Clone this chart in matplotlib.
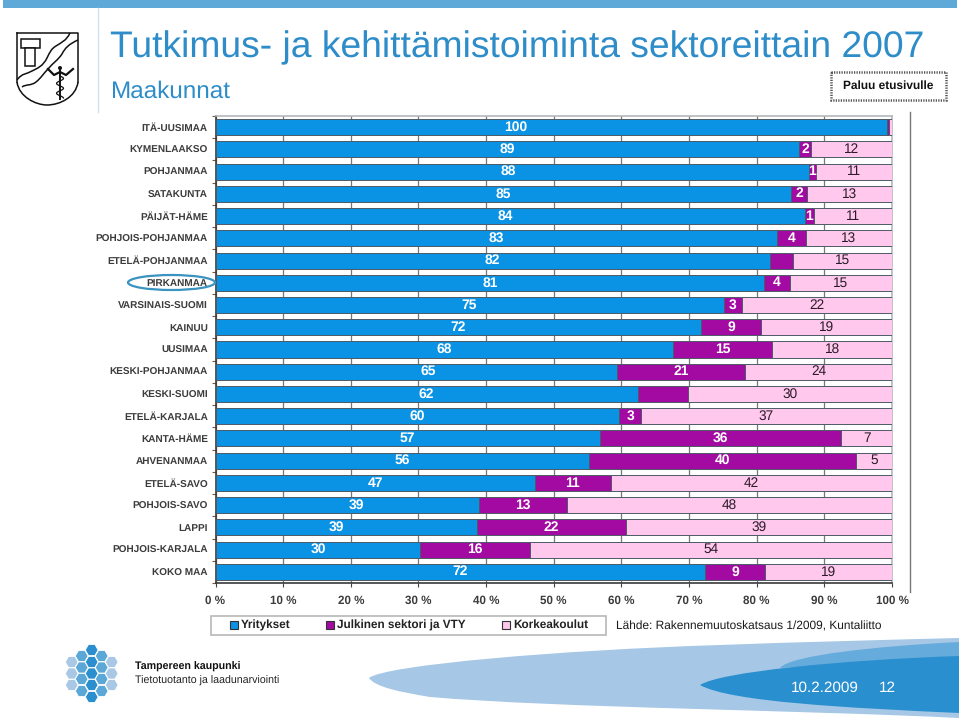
import numpy as np
import matplotlib
matplotlib.use('Agg')
import matplotlib.pyplot as plt
from matplotlib.patches import Rectangle, Ellipse, RegularPolygon, PathPatch
from matplotlib.path import Path

plt.rcParams['font.family'] = ['Liberation Sans', 'DejaVu Sans']
plt.rcParams['text.hinting'] = 'no_hinting'

regions = ['ITÄ-UUSIMAA', 'KYMENLAAKSO', 'POHJANMAA', 'SATAKUNTA', 'PÄIJÄT-HÄME',
           'POHJOIS-POHJANMAA', 'ETELÄ-POHJANMAA', 'PIRKANMAA', 'VARSINAIS-SUOMI',
           'KAINUU', 'UUSIMAA', 'KESKI-POHJANMAA', 'KESKI-SUOMI', 'ETELÄ-KARJALA',
           'KANTA-HÄME', 'AHVENANMAA', 'ETELÄ-SAVO', 'POHJOIS-SAVO', 'LAPPI',
           'POHJOIS-KARJALA', 'KOKO MAA']

# segment widths as drawn (%), the printed labels do not always agree with them
yritykset = [99.2, 86.3, 87.7, 85.1, 87.1, 83.0, 81.9, 81.1, 75.1, 71.8, 67.6,
             59.4, 62.4, 59.7, 56.8, 55.2, 47.2, 39.0, 38.6, 30.3, 72.3]
julkinen = [0.4, 1.8, 1.0, 2.4, 1.3, 4.3, 3.4, 3.8, 2.7, 8.8, 14.7,
            18.9, 7.4, 3.2, 35.7, 39.5, 11.2, 13.0, 22.1, 16.2, 9.0]
korkeakoulut = [0.4, 11.9, 11.3, 12.5, 11.6, 12.7, 14.7, 15.1, 22.2, 19.4, 17.7,
                21.7, 30.2, 37.1, 7.5, 5.3, 41.6, 48.0, 39.3, 53.5, 18.7]

yritykset_lab = ['100', '89', '88', '85', '84', '83', '82', '81', '75', '72', '68',
                 '65', '62', '60', '57', '56', '47', '39', '39', '30', '72']
julkinen_lab = ['', '2', '1', '2', '1', '4', '', '4', '3', '9', '15',
                '21', '', '3', '36', '40', '11', '13', '22', '16', '9']
korkea_lab = ['', '12', '11', '13', '11', '13', '15', '15', '22', '19', '18',
              '24', '30', '37', '7', '5', '42', '48', '39', '54', '19']

series_names = ['Yritykset', 'Julkinen sektori ja VTY', 'Korkeakoulut']
xticks = [0, 10, 20, 30, 40, 50, 60, 70, 80, 90, 100]

BLUE = '#0a92e4'
PURPLE = '#a20aa2'
PINK = '#ffc8ec'
EDGE = '#4d5a66'

W, H = 959, 718
fig = plt.figure(figsize=(W / 100, H / 100), dpi=100)

# ---- chart
ax = fig.add_axes([215.5 / W, 1 - 583 / H, 676.5 / W, 467 / H])
y = np.arange(len(regions))
left2 = np.array(yritykset)
left3 = left2 + np.array(julkinen)
ax.barh(y, yritykset, 0.72, color=BLUE, edgecolor=EDGE, linewidth=0.7, zorder=3)
ax.barh(y, julkinen, 0.72, left=left2, color=PURPLE, edgecolor=EDGE, linewidth=0.7, zorder=3)
ax.barh(y, korkeakoulut, 0.72, left=left3, color=PINK, edgecolor=EDGE, linewidth=0.7, zorder=3)

ax.set_xlim(0, 100)
ax.set_ylim(20.5, -0.5)
ax.set_xticks(xticks)
ax.set_xticklabels(['%d %%' % t for t in xticks], fontsize=8.4, fontweight='bold', color='#3c3c3c')
ax.set_yticks(y)
ax.set_yticklabels(regions, fontsize=7.2, fontweight='bold', color='#3c3c3c')
ax.set_yticks(np.arange(-0.5, 21), minor=True)
ax.tick_params(axis='y', which='major', length=0, pad=5.5)
ax.tick_params(axis='y', which='minor', length=3, color='#7a5a3a', width=0.8)
ax.tick_params(axis='x', length=3, color='#444444', pad=6)
ax.grid(axis='x', color='#777777', linewidth=0.9, zorder=0)
ax.set_axisbelow(True)
for side in ['left', 'bottom']:
    ax.spines[side].set_color('#3a3a3a')
    ax.spines[side].set_linewidth(1.2)
for side in ['top', 'right']:
    ax.spines[side].set_color('#b4b8bc')
    ax.spines[side].set_linewidth(1.2)

# hand placed labels in the original, shift from the middle of the segment
nudge = {0: -5.2, 2: -0.6, 4: -0.7, 11: 1.8, 17: 1.3, 18: -1.5}
for i in y:
    ax.text(yritykset[i] / 2 + nudge.get(i, 0), i, yritykset_lab[i], ha='center', va='center',
            color='white', fontsize=10, fontweight='bold', zorder=5)
    ax.text(left2[i] + julkinen[i] / 2, i, julkinen_lab[i], ha='center', va='center',
            color='white', fontsize=10, fontweight='bold', zorder=5)
    ax.text(left3[i] + korkeakoulut[i] / 2, i, korkea_lab[i], ha='center', va='center',
            color='#2a1a2a', fontsize=9.8, zorder=5)

# ---- slide furniture, in pixel coordinates
deco = fig.add_axes([0, 0, 1, 1], zorder=5)
deco.set_xlim(0, W)
deco.set_ylim(H, 0)
deco.axis('off')
deco.patch.set_alpha(0)

deco.add_patch(Rectangle((3, 0), 954, 8, color='#5fa9d8', lw=0))
deco.plot([97.5, 97.5], [8, 112], color='#cfe2ef', lw=1)
deco.plot([910, 910], [112, 592], color='#777777', lw=1)

deco.text(110, 47.5, 'Tutkimus- ja kehittämistoiminta sektoreittain 2007', color='#2e8dc8',
          fontsize=26.8, ha='left', va='center')
deco.text(110, 92, 'Maakunnat', color='#2e8dc8', fontsize=17.5, ha='left', va='center')

deco.add_patch(Rectangle((831, 72), 115, 28, fill=False, ec='#555555', lw=1.8, ls=(0, (0.5, 0.5))))
deco.text(888.5, 86, 'Paluu etusivulle', fontsize=8.6, fontweight='bold', ha='center', va='center', color='#111111')

# oval round PIRKANMAA
deco.add_patch(Ellipse((171.5, 282.5), 87, 15, fill=False, ec='#3a93c0', lw=1.6))

# legend box
deco.add_patch(Rectangle((211, 616), 395, 19, fc='white', ec='#b8b8b8', lw=1.2))
legend_x = [231, 327, 503]
legend_col = [BLUE, PURPLE, PINK]
for lx, col, name in zip(legend_x, legend_col, series_names):
    deco.add_patch(Rectangle((lx - 1, 621), 8, 8, fc=col, ec='#333333', lw=0.8))
    deco.text(lx + 10, 625.2, name, fontsize=8.5, fontweight='bold', ha='left', va='center', color='#222222')

deco.text(616, 626, 'Lähde: Rakennemuutoskatsaus 1/2009, Kuntaliitto', fontsize=8.6,
          ha='left', va='center', color='#1a1a1a')


def curve(verts, color, z=1):
    # verts: start, then triples of bezier points, closed at the end
    codes = [Path.MOVETO] + [Path.CURVE4] * (len(verts) - 1)
    deco.add_patch(PathPatch(Path(verts, codes), fc=color, ec='none', zorder=z))


def line_curve(verts, lw=1.1):
    codes = [Path.MOVETO] + [Path.CURVE4] * (len(verts) - 1)
    deco.add_patch(PathPatch(Path(verts, codes), fc='none', ec='#111111', lw=lw))


# swooshes at the bottom right
curve([(369, 678), (385, 665), (560, 650), (720, 645),
       (800, 642), (880, 640), (959, 638),
       (959, 665), (959, 690), (959, 718),
       (800, 710), (560, 708), (430, 697),
       (400, 692), (375, 687), (369, 678)], '#a6c7e5', 1)
curve([(780, 668), (790, 655), (880, 646), (959, 642),
       (959, 650), (959, 655), (959, 660),
       (900, 662), (840, 665), (780, 668)], '#65abdc', 2)
curve([(700, 685), (720, 672), (840, 660), (959, 656),
       (959, 675), (959, 695), (959, 713),
       (850, 708), (730, 702), (700, 685)], '#2a8fcf', 3)
deco.text(825, 687.5, '10.2.2009', color='white', fontsize=11, ha='center', va='center', zorder=6)
deco.text(887, 688, '12', color='white', fontsize=11, ha='center', va='center', zorder=6)

# honeycomb logo
hex_cols = [(71.7, [662, 673.5, 685], '#a8c8e6'),
            (81.7, [656, 667.5, 679, 691], '#5ba8d8'),
            (91.7, [650, 662, 673.5, 685, 697], '#2b8fcf'),
            (101.7, [656, 667.5, 679, 691], '#5ba8d8'),
            (111.7, [662, 673.5, 685], '#a8c8e6')]
for hx, hys, col in hex_cols:
    for hy in hys:
        deco.add_patch(RegularPolygon((hx, hy), 6, radius=6.4, orientation=np.pi / 6, fc=col, ec='white', lw=0.6))
deco.text(135, 667, 'Tampereen kaupunki', fontsize=7.7, fontweight='bold', ha='left', va='center', color='#111111')
deco.text(135, 680.5, 'Tietotuotanto ja laadunarviointi', fontsize=7.7, ha='left', va='center', color='#222222')

# coat of arms
deco.plot([17, 17], [33, 82], color='#111111', lw=1.1)
deco.plot([17, 78, 78], [33, 33, 82], color='#111111', lw=1.1)
line_curve([(17, 82), (19, 97), (36, 105), (47, 105), (60, 105), (76, 97), (78, 82)])
deco.add_patch(Rectangle((20.7, 38.7), 19.5, 9, fc='white', ec='#111111', lw=1.1))
deco.add_patch(Rectangle((25, 47.7), 10, 18.5, fc='white', ec='#111111', lw=1.1))
line_curve([(17, 80), (22, 73), (27, 74), (32, 71), (38, 68), (43, 66), (47, 58),
            (50, 52), (51, 49), (56, 46), (62, 42), (66, 41), (70, 33)])
line_curve([(22, 87), (26, 84), (31, 86), (36, 82), (41, 78), (44, 73), (48, 69),
            (53, 63), (58, 60), (62, 54), (65, 48), (69, 44), (78, 40)])
deco.plot([60, 60], [70, 99], color='#111111', lw=1.4)
deco.plot(60 + 3.5 * np.sin(np.linspace(0, 14, 40)), np.linspace(76, 98, 40), color='#111111', lw=0.9)
deco.plot([48, 54, 60, 66, 73], [69, 75, 72, 75, 69], color='#111111', lw=1.6)
deco.add_patch(Ellipse((60, 68), 4, 4, fc='#111111', ec='none'))

fig.savefig('out.png', dpi=100)
